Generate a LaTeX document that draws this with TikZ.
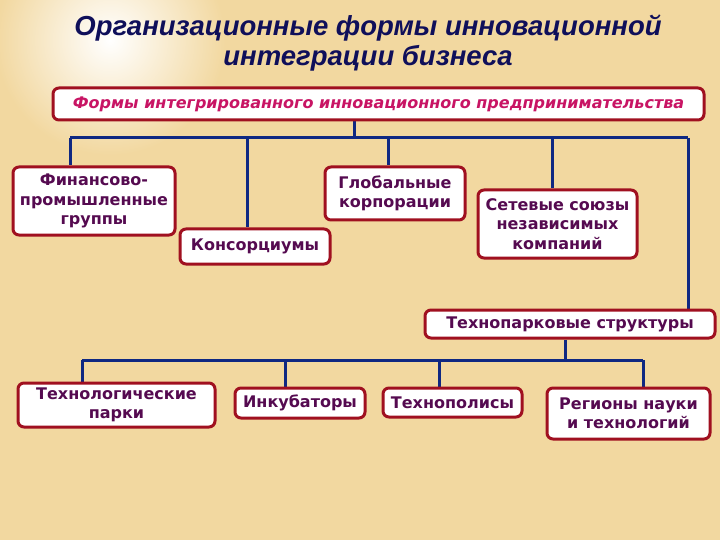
\documentclass[tikz,border=0pt]{standalone}
\usepackage{fontspec}
\setmainfont{DejaVu Sans}
\newfontfamily\titlefont{Liberation Sans}
\usetikzlibrary{backgrounds}

\definecolor{bgcol}{RGB}{242,216,160}
\definecolor{boxred}{RGB}{160,16,32}
\definecolor{boxtext}{RGB}{85,10,80}
\definecolor{formcol}{RGB}{200,20,100}
\definecolor{titlecol}{RGB}{15,15,90}
\definecolor{linkblue}{RGB}{15,40,130}

\begin{document}
\begin{tikzpicture}[x=1pt, y=-1pt,
    box/.style={draw=boxred, line width=3pt, rounded corners=6pt, fill=white,
        text=boxtext, font=\bfseries\fontsize{16}{19.5}\selectfont, align=center, inner sep=2pt},
    link/.style={draw=linkblue, line width=3pt}]
    \useasboundingbox (0,0) rectangle (720,540);

    % title
    \node [font=\titlefont\bfseries\itshape\fontsize{27.5}{30}\selectfont, text=titlecol, align=center]
        (title) at (368,43) {Организационные формы инновационной\\интеграции бизнеса};

    \node [box, minimum width=651pt, minimum height=32pt, text=formcol,
        font=\bfseries\itshape\fontsize{16}{18}\selectfont] (forms) at (378.5,104)
        {Формы интегрированного инновационного предпринимательства};

    % first row
    \node [box, minimum width=162pt, minimum height=68pt] (fpg)  at (94,201)    {Финансово-\\промышленные\\группы};
    \node [box, minimum width=150pt, minimum height=35pt] (kons) at (255,246.5) {Консорциумы};
    \node [box, minimum width=140pt, minimum height=53pt] (glob) at (395,193.5) {Глобальные\\корпорации};
    \node [box, minimum width=159pt, minimum height=68pt] (net)  at (557.5,224) {Сетевые союзы\\независимых\\компаний};
    \node [box, minimum width=290pt, minimum height=28pt] (tps)  at (570,324)   {Технопарковые структуры};

    % second row
    \node [box, minimum width=197pt, minimum height=44pt] (parks) at (116.5,405) {Технологические\\парки};
    \node [box, minimum width=130pt, minimum height=30pt] (inc)   at (300,403)   {Инкубаторы};
    \node [box, minimum width=139pt, minimum height=29pt] (poli)  at (452.5,402.5) {Технополисы};
    \node [box, minimum width=163pt, minimum height=51pt] (reg)   at (628.5,413.5) {Регионы науки\\и технологий};

    \begin{pgfonlayer}{background}
        \fill [bgcol] (0,0) rectangle (720,540);
        \shade [inner color=white, outer color=bgcol] (110,40) circle [radius=115pt];

        % upper tree
        \coordinate (top)  at (354,138);
        \coordinate (busL) at (70,138);
        \coordinate (b2)   at (247,138);
        \coordinate (b3)   at (388,138);
        \coordinate (b4)   at (552,138);
        \coordinate (busR) at (688,138);
        \draw [link] (forms.south -| top) -- (top);
        \draw [link] (busL) -- (busR);
        \draw [link] (busL) -- (busL |- fpg.north);
        \draw [link] (b2) -- (b2 |- kons.north);
        \draw [link] (b3) -- (b3 |- glob.north);
        \draw [link] (b4) -- (b4 |- net.north);
        \draw [link] (busR) -- (busR |- tps.north);

        % lower tree
        \coordinate (low)  at (565,360);
        \coordinate (c1)   at (82,360);
        \coordinate (c2)   at (285,360);
        \coordinate (c3)   at (439,360);
        \coordinate (c4)   at (643,360);
        \draw [link] (tps.south -| low) -- (low);
        \draw [link] (c1) -- (c4);
        \draw [link] (c1) -- (c1 |- parks.north);
        \draw [link] (c2) -- (c2 |- inc.north);
        \draw [link] (c3) -- (c3 |- poli.north);
        \draw [link] (c4) -- (c4 |- reg.north);
    \end{pgfonlayer}
\end{tikzpicture}
\end{document}
